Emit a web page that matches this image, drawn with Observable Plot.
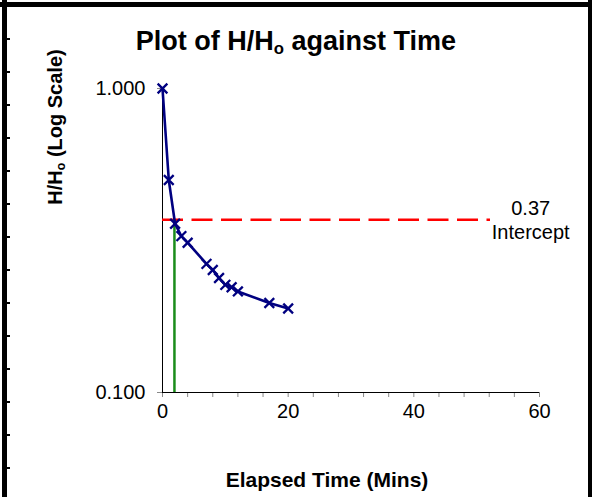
<!DOCTYPE html>
<html>
<head>
<meta charset="utf-8">
<script src="https://cdn.jsdelivr.net/npm/d3@7"></script>
<script src="https://cdn.jsdelivr.net/npm/@observablehq/plot@0.6"></script>
<style>
  html, body { margin: 0; padding: 0; background: #fff; }
  #wrap { position: relative; width: 592px; height: 497px; overflow: hidden; background: #fff;
          font-family: "Liberation Sans", Arial, Helvetica, sans-serif; }
  #chart { position: absolute; left: 0; top: 0; }
  .lbl { position: absolute; font-weight: bold; color: #000; white-space: nowrap; line-height: 1; }
  .lbl sub { font-size: 0.62em; vertical-align: -0.25em; }
  #title { font-size: 27px; left: 296px; top: 28px; transform: translateX(-50%); }
  #xlabel { font-size: 21px; left: 327px; top: 469px; transform: translateX(-50%); }
  #ylabel { font-size: 20px; left: 56px; top: 127px; transform: translate(-50%, -50%) rotate(-90deg); }
  .bar { position: absolute; background: #000; }
</style>
</head>
<body>
<div id="wrap">
  <div id="chart"></div>
  <div class="bar" style="left:0;top:2px;width:592px;height:5px"></div>
  <div class="bar" style="left:2px;top:0;width:5px;height:497px"></div>
  <div class="bar" style="left:588px;top:0;width:4px;height:497px"></div>
  <div id="notches"></div>
  <div class="lbl" id="title">Plot of H/H<sub>o</sub> against Time</div>
  <div class="lbl" id="ylabel">H/H<sub>o</sub> (Log Scale)</div>
  <div class="lbl" id="xlabel">Elapsed Time (Mins)</div>
</div>
<script>
// Data
const times  = [0, 1, 2, 3, 4, 7, 8, 9, 10, 11, 12, 17, 20];
const ratios = [1.0, 0.50, 0.359, 0.327, 0.311, 0.265, 0.253, 0.238, 0.226, 0.222, 0.215, 0.197, 0.189];
const interceptValue = [0.37];
const interceptTime = [1.9];
const interceptLineEnd = [52.2];
const annotationText = ["0.37\nIntercept"];
const annotationX = [58.6];
const yTicks = [0.1, 1];
const xTicks = d3.range(0, 61, 4);
const xDomain = [0, 60];
const yDomain = [0.1, 1];

const pts = times.map((t, i) => ({t, r: ratios[i]}));

const chart = Plot.plot({
  width: 592,
  height: 497,
  marginLeft: 162,
  marginRight: 53,
  marginTop: 88,
  marginBottom: 105,
  style: {fontFamily: "'Liberation Sans', Arial, sans-serif", fontSize: "20px", background: "transparent", overflow: "visible"},
  x: {domain: xDomain},
  y: {type: "log", domain: yDomain},
  marks: [
    Plot.axisY({ticks: yTicks, tickFormat: d3.format(".3f"), tickSize: 5, tickPadding: 12, stroke: "#888", fill: "#000", fontSize: 20, label: null}),
    Plot.axisX({ticks: xTicks, tickFormat: d => d % 20 === 0 ? String(d) : "", tickSize: 5, tickPadding: 6, stroke: "#888", fill: "#000", fontSize: 20, label: null}),
    Plot.ruleX([xDomain[0]], {stroke: "#000", strokeWidth: 1}),
    Plot.ruleY([yDomain[0]], {stroke: "#000", strokeWidth: 1}),
    Plot.ruleY(interceptValue, {x1: xDomain[0], x2: interceptLineEnd[0], stroke: "#ff0000", strokeWidth: 2.5, strokeDasharray: "21,8.5"}),
    Plot.ruleX(interceptTime, {y1: yDomain[0], y2: interceptValue[0], stroke: "#1a8c1a", strokeWidth: 2.5}),
    Plot.line(pts, {x: "t", y: "r", stroke: "#000080", strokeWidth: 2.6}),
    Plot.dot(pts, {x: "t", y: "r", symbol: "times", r: 4.5, stroke: "#000080", strokeWidth: 2.3}),
    Plot.text(annotationText, {x: annotationX, y: interceptValue, text: d => d, fontSize: 20, lineHeight: 1.2, fill: "#000", textAnchor: "middle"})
  ]
});
document.getElementById("chart").appendChild(chart);

// decorative notches on the left border
const notches = document.getElementById("notches");
for (let y = 5; y < 497; y += 33) {
  const n = document.createElement("div");
  n.className = "bar";
  n.style.cssText = `left:7px;top:${y}px;width:3px;height:2px`;
  notches.appendChild(n);
}
</script>
</body>
</html>
